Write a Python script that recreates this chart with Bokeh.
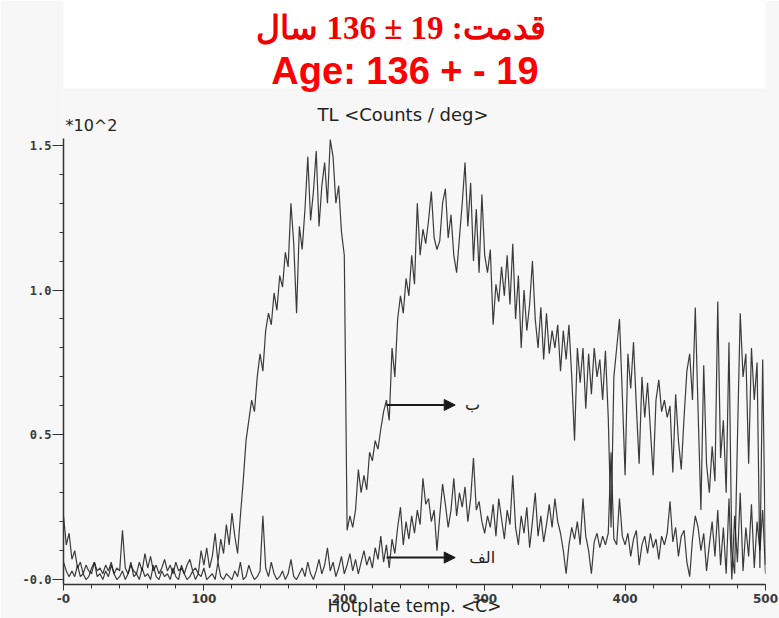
from bokeh.plotting import figure
from bokeh.models import Range1d, FixedTicker, Label, Arrow, NormalHead, BoxAnnotation, ColumnDataSource
from bokeh.embed import file_html
from bokeh.resources import INLINE

# ---------------- data ----------------
temps = list(range(0, 501, 2))  # hotplate temperature, deg C

curve_b = [  # upper curve (ب)
    0.22, 0.12, 0.16, 0.07, 0.10, 0.04,
    0.06, 0.02, 0.05, 0.03, 0.02, 0.06, 0.03, 0.04, 0.02, 0.05,
    0.03, 0.06, 0.02, 0.04, 0.03, 0.17, 0.04, 0.02, 0.05, 0.03,
    0.02, 0.06, 0.03, 0.09, 0.04, 0.08, 0.03, 0.05, 0.02, 0.04, 0.07, 0.03, 0.05,
    0.02, 0.06, 0.03, 0.04, 0.02, 0.05, 0.07, 0.03, 0.04, 0.02, 0.10, 0.05,
    0.11, 0.04, 0.08, 0.16, 0.06, 0.14, 0.09, 0.19, 0.12, 0.23, 0.15, 0.09, 0.22,
    0.34, 0.48, 0.55, 0.62, 0.58, 0.70, 0.78, 0.72, 0.86, 0.92, 0.88, 0.99,
    0.93, 1.05, 1.01, 1.13, 1.08, 1.30, 1.16, 0.92, 1.22, 1.14, 1.28, 1.46, 1.24,
    1.34, 1.48, 1.22, 1.36, 1.44, 1.30, 1.52, 1.46, 1.30, 1.36, 1.20, 1.12,
    0.17, 0.22, 0.18, 0.24, 0.38, 0.30, 0.36, 0.31, 0.44, 0.41, 0.48, 0.45, 0.52,
    0.58, 0.62, 0.55, 0.80, 0.70, 0.90, 0.98, 0.92, 1.04, 0.98, 1.12, 1.02,
    1.30, 1.12, 1.21, 1.16, 1.24, 1.34, 1.18, 1.14, 1.17, 1.30, 1.35, 1.18, 1.26,
    1.12, 1.06, 1.18, 1.30, 1.44, 1.22, 1.37, 1.10, 1.28, 1.06, 1.33, 1.12,
    1.06, 1.14, 0.88, 1.02, 0.96, 1.08, 0.98, 1.12, 0.95, 1.16, 0.90, 1.05, 0.80,
    1.00, 0.86, 0.95, 1.10, 0.90, 0.80, 0.94, 0.76, 0.92, 0.78, 0.86, 0.80,
    0.88, 0.72, 0.86, 0.76, 0.88, 0.70, 0.48, 0.80, 0.68, 0.80, 0.59, 0.78, 0.64,
    0.80, 0.70, 0.76, 0.62, 0.79, 0.56, 0.18, 0.70, 0.80, 0.90, 0.64, 0.36,
    0.78, 0.66, 0.82, 0.60, 0.40, 0.70, 0.56, 0.68, 0.52, 0.36, 0.62, 0.69, 0.58,
    0.62, 0.56, 0.60, 0.37, 0.64, 0.48, 0.38, 0.56, 0.72, 0.78, 0.62, 0.94,
    0.58, 0.24, 0.74, 0.40, 0.30, 0.46, 0.34, 0.96, 0.42, 0.55, 0.30, 0.82, 0.10,
    0.02, 0.48, 0.92, 0.70, 0.78, 0.40, 0.80, 0.62, 0.75, 0.04, 0.76, 0.05,
]

curve_a = [  # lower curve (الف)
    0.06, 0.03, 0.01, 0.03, 0.01, 0.05,
    0.01, 0.02, 0.00, 0.01, 0.04, 0.06, 0.01, 0.02, 0.00, 0.03,
    0.01, 0.05, 0.02, 0.00, 0.01, 0.03, 0.00, 0.02, 0.06, 0.01,
    0.02, 0.00, 0.04, 0.01, 0.02, 0.00, 0.05, 0.01, 0.00, 0.03, 0.01, 0.02, 0.00,
    0.04, 0.01, 0.00, 0.05, 0.02, 0.00, 0.01, 0.03, 0.00, 0.02, 0.01, 0.04,
    0.00, 0.01, 0.02, 0.00, 0.06, 0.01, 0.00, 0.02, 0.01, 0.00, 0.03, 0.01, 0.06,
    0.00, 0.01, 0.05, 0.02, 0.00, 0.01, 0.03, 0.22, 0.04, 0.01, 0.06, 0.02,
    0.00, 0.01, 0.03, 0.00, 0.02, 0.07, 0.01, 0.00, 0.02, 0.04, 0.01, 0.06, 0.02,
    0.00, 0.03, 0.07, 0.02, 0.05, 0.11, 0.03, 0.06, 0.01, 0.04, 0.08, 0.02,
    0.05, 0.09, 0.03, 0.07, 0.02, 0.06, 0.10, 0.05, 0.08, 0.04, 0.11, 0.07, 0.15,
    0.06, 0.12, 0.04, 0.14, 0.09, 0.18, 0.25, 0.12, 0.20, 0.14, 0.22, 0.16,
    0.24, 0.19, 0.35, 0.26, 0.28, 0.20, 0.24, 0.10, 0.22, 0.33, 0.26, 0.18, 0.24,
    0.35, 0.22, 0.30, 0.25, 0.32, 0.20, 0.28, 0.42, 0.24, 0.27, 0.20, 0.16,
    0.22, 0.18, 0.26, 0.15, 0.28, 0.21, 0.14, 0.24, 0.19, 0.36, 0.18, 0.12, 0.22,
    0.16, 0.25, 0.11, 0.20, 0.30, 0.15, 0.22, 0.13, 0.19, 0.26, 0.18, 0.28,
    0.20, 0.16, 0.10, 0.02, 0.12, 0.18, 0.14, 0.20, 0.12, 0.28, 0.15, 0.10, 0.02,
    0.13, 0.16, 0.11, 0.15, 0.12, 0.16, 0.44, 0.14, 0.12, 0.28, 0.15, 0.12,
    0.16, 0.08, 0.14, 0.17, 0.05, 0.12, 0.15, 0.09, 0.16, 0.11, 0.14, 0.07, 0.15,
    0.12, 0.16, 0.27, 0.13, 0.18, 0.08, 0.15, 0.17, 0.06, 0.01, 0.14, 0.22,
    0.18, 0.10, 0.16, 0.03, 0.12, 0.20, 0.08, 0.24, 0.05, 0.18, 0.02, 0.28, 0.00,
    0.22, 0.06, 0.30, 0.03, 0.18, 0.08, 0.26, 0.04, 0.20, 0.10, 0.24, 0.02,
]

x_tick_values = [0, 100, 200, 300, 400, 500]
x_tick_labels = ["-0", "100", "200", "300", "400", "500"]
x_minor_ticks = [0, 20, 40, 60, 80, 100, 120, 140, 160, 180, 200, 220, 240, 260,
                 280, 300, 320, 340, 360, 380, 400, 420, 440, 460, 480, 500]
y_tick_values = [0.0, 0.5, 1.0, 1.5]
y_tick_labels = ["-0.0", "0.5", "1.0", "1.5"]
y_minor_ticks = [0.0, 0.1, 0.2, 0.3, 0.4, 0.5, 0.6, 0.7, 0.8, 0.9, 1.0,
                 1.1, 1.2, 1.3, 1.4, 1.5]

title_fa = "\u202bقدمت: 19 ± 136 سال\u202c"
title_en = "Age: 136 + - 19"
y_title = "TL <Counts / deg>"
y_scale_note = "*10^2"
x_title = "Hotplate temp. <C>"

arrow_labels = ["ب", "الف"]
arrow_y = [0.603, 0.076]
arrow_x_start = 230
arrow_x_end = 279
arrow_label_x = [286, 289]

# ---------------- figure ----------------
paper = "#f7f7f7"
ink = "#1a1a1a"

p = figure(width=779, height=618, x_range=Range1d(0, 500), y_range=Range1d(-0.017, 2.0),
           output_backend="svg", toolbar_location=None,
           min_border_left=63, min_border_right=14, min_border_top=0, min_border_bottom=33,
           background_fill_color=paper, border_fill_color=paper, outline_line_color=None)
p.xgrid.visible = False
p.ygrid.visible = False

# white strip behind the red titles
p.add_layout(BoxAnnotation(bottom=1.697, fill_color="white", fill_alpha=1.0,
                           line_color=None, level="underlay"))

src = ColumnDataSource(dict(t=temps, a=curve_a, b=curve_b))
p.line("t", "b", source=src, line_color=ink, line_width=1.2, line_alpha=0.85)
p.line("t", "a", source=src, line_color=ink, line_width=1.2, line_alpha=0.85)

# axes
xa = p.xaxis[0]
xa.ticker = FixedTicker(ticks=x_tick_values, minor_ticks=x_minor_ticks)
xa.major_label_overrides = dict(zip(x_tick_values, x_tick_labels))
xa.axis_line_color = "#333333"
xa.axis_line_width = 1.5
xa.major_tick_in = 0
xa.major_tick_out = 6
xa.minor_tick_in = 0
xa.minor_tick_out = 4
xa.major_tick_line_color = "#333333"
xa.minor_tick_line_color = "#333333"
xa.major_label_standoff = 3
xa.major_label_text_font = "DejaVu Sans"
xa.major_label_text_font_style = "bold"
xa.major_label_text_font_size = "12px"
xa.major_label_text_color = "#3a3a3a"
xa.axis_label = x_title
xa.axis_label_standoff = -10
xa.axis_label_text_font = "DejaVu Sans"
xa.axis_label_text_font_style = "normal"
xa.axis_label_text_font_size = "17px"
xa.axis_label_text_color = "#222222"

ya = p.yaxis[0]
ya.ticker = FixedTicker(ticks=y_tick_values, minor_ticks=y_minor_ticks)
ya.major_label_overrides = dict(zip(y_tick_values, y_tick_labels))
ya.bounds = (-0.017, 1.524)
ya.axis_line_color = "#333333"
ya.axis_line_width = 1.5
ya.major_tick_in = 0
ya.major_tick_out = 11
ya.minor_tick_in = 0
ya.minor_tick_out = 4
ya.major_tick_line_color = "#333333"
ya.minor_tick_line_color = "#333333"
ya.major_label_standoff = 1
ya.major_label_text_font = "DejaVu Sans Mono"
ya.major_label_text_font_style = "bold"
ya.major_label_text_font_size = "12px"
ya.major_label_text_color = "#3a3a3a"

# texts (inside the frame, above the curves)
p.add_layout(Label(x=240.4, y=1.904, text=title_fa,
                   text_align="center", text_baseline="middle",
                   text_font="Liberation Serif", text_font_style="bold",
                   text_font_size="33px", text_color="#ee0000"))
p.add_layout(Label(x=243.2, y=1.757, text=title_en,
                   text_align="center", text_baseline="middle",
                   text_font="Liberation Sans", text_font_style="bold",
                   text_font_size="38px", text_color="#ff0000"))
p.add_layout(Label(x=241.8, y=1.607, text=y_title,
                   text_align="center", text_baseline="middle",
                   text_font="DejaVu Sans", text_font_size="18px", text_color="#222222"))
p.add_layout(Label(x=1.4, y=1.569, text=y_scale_note,
                   text_align="left", text_baseline="middle",
                   text_font="DejaVu Sans", text_font_size="16px", text_color="#222222"))

for lab, yy, lx in zip(arrow_labels, arrow_y, arrow_label_x):
    p.add_layout(Arrow(end=NormalHead(size=11, fill_color=ink, line_color=ink),
                       x_start=arrow_x_start, y_start=yy, x_end=arrow_x_end, y_end=yy,
                       line_color=ink, line_width=2))
    p.add_layout(Label(x=lx, y=yy, text=lab, text_align="left", text_baseline="middle",
                       text_font="DejaVu Sans", text_font_size="16px", text_color="#222222"))

open("out.html", "w").write(file_html(p, INLINE))
